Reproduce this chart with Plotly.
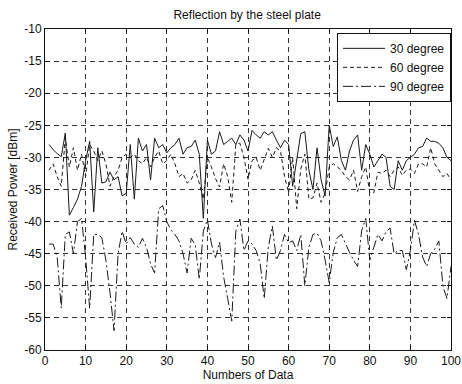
import plotly.graph_objects as go

# Sample index (numbers of data)
samples = list(range(1, 101))

# Received power [dBm] at each incidence angle
power_30 = [
    -28.0, -28.8, -29.4, -29.9, -26.2, -39.0, -37.8, -36.5, -34.5, -30.5,
    -27.5, -38.5, -28.5, -34.0, -33.8, -32.3, -33.5, -33.0, -36.0, -35.6,
    -28.0, -36.5, -27.0, -29.0, -28.0, -33.5, -27.0, -28.5, -28.0, -29.3,
    -28.5, -28.0, -27.0, -29.5, -28.5, -28.3, -27.3, -29.5, -39.5, -27.3,
    -29.5, -29.0, -26.0, -28.0, -27.5, -27.0, -28.0, -26.5, -27.3, -29.0,
    -25.8, -26.5, -27.0, -26.0, -26.5, -26.0, -27.3, -28.5, -27.3, -28.0,
    -34.5, -30.0, -26.3, -26.0, -32.0, -35.0, -28.5, -33.5, -36.0, -25.0,
    -28.3, -26.8, -30.5, -32.0, -29.0, -27.3, -26.5, -32.0, -28.0, -29.5,
    -31.5, -30.5, -29.5, -30.0, -34.5, -35.0, -30.5, -32.0, -30.5, -30.0,
    -29.5, -28.5, -28.3, -27.0, -27.5, -27.5, -27.8, -28.5, -30.0, -30.5,
]
power_60 = [
    -32.0, -31.0, -33.0, -34.5, -27.0, -31.5, -28.5, -32.0, -29.5, -33.0,
    -28.0, -29.0, -30.5, -29.0, -31.0, -34.5, -33.0, -32.0, -30.0, -29.5,
    -30.0, -29.5, -30.5, -31.0, -30.0, -31.5, -30.0, -29.0, -31.0, -30.5,
    -29.5, -31.0, -33.0, -32.5, -34.0, -33.5, -32.0, -34.0, -36.5, -30.0,
    -31.5, -33.3, -34.6, -31.0, -33.0, -37.0, -28.0, -27.8, -30.0, -33.4,
    -30.5, -30.0, -32.0, -30.3, -28.6, -30.0, -28.5, -29.0, -33.0, -35.5,
    -30.0, -38.0, -31.8, -29.5, -36.5, -36.3, -34.0, -37.0, -35.6, -31.5,
    -31.0, -31.5, -32.0, -33.0, -33.5, -32.0, -35.3, -33.0, -31.5, -35.5,
    -35.5, -32.3, -32.5, -32.0, -33.0, -32.0, -31.5, -32.8, -32.0, -31.8,
    -32.5, -31.0, -31.0, -31.5, -28.5, -31.0, -32.0, -33.0, -32.5, -33.5,
]
power_90 = [
    -43.5, -43.5, -45.5, -53.5, -42.0, -41.6, -45.0, -40.0, -39.5, -45.5,
    -53.5, -42.0, -42.0, -42.5, -46.0, -51.0, -57.0, -45.0, -41.5, -43.5,
    -42.5, -43.5, -44.0, -42.6, -44.0, -46.6, -48.0, -38.0, -37.5, -40.0,
    -41.3, -42.0, -43.0, -45.0, -48.0, -42.6, -43.6, -49.0, -41.5, -39.7,
    -43.5, -45.6, -43.2, -48.6, -52.0, -55.5, -41.5, -39.6, -44.5, -43.0,
    -43.5, -44.5, -46.5, -52.0, -44.0, -40.7, -46.0, -44.5, -42.0, -43.3,
    -43.0, -44.5, -42.0, -50.0, -44.0, -42.0, -41.8, -43.0, -46.0, -49.5,
    -44.8, -42.5, -42.0, -43.5, -44.8, -46.0, -47.0, -41.4, -39.5, -46.0,
    -44.0, -42.0, -43.0, -41.6, -41.0, -45.0, -44.5, -44.5, -47.5, -44.5,
    -39.8, -42.0, -45.5, -47.0, -45.0, -44.3, -43.0, -50.0, -52.0, -47.0,
]

# Axis ticks (labels written with a plain hyphen-minus)
x_ticks = [0, 10, 20, 30, 40, 50, 60, 70, 80, 90, 100]
y_ticks = [-10, -15, -20, -25, -30, -35, -40, -45, -50, -55, -60]

series_names = ["30 degree", "60 degree", "90 degree"]
series_dash = ["solid", "4px,3px", "10px,3px,2px,3px"]

FONT = "Liberation Sans, Arial, sans-serif"
INK = "#1a1a1a"

fig = go.Figure()
for name, values, dash in zip(series_names, [power_30, power_60, power_90], series_dash):
    fig.add_trace(go.Scatter(
        x=samples, y=values, mode="lines", name=name,
        line=dict(color=INK, width=1, dash=dash),
    ))

axis_common = dict(
    showline=True, linecolor="#111", linewidth=1, mirror="ticks",
    ticks="inside", ticklen=4, tickcolor="#111",
    showgrid=True, gridcolor="#333", gridwidth=1, griddash="5px,4px",
    zeroline=False, automargin=False,
    tickfont=dict(family=FONT, size=12, color="#111"),
)

fig.update_xaxes(range=[0, 100], tickvals=x_ticks, ticktext=[str(v) for v in x_ticks],
                 title=dict(text="Numbers of Data", font=dict(family=FONT, size=12, color="#111"), standoff=2),
                 **axis_common)
fig.update_yaxes(range=[-60, -10], tickvals=y_ticks, ticktext=[str(v) for v in y_ticks],
                 title=dict(text="Received Power [dBm]", font=dict(family=FONT, size=12, color="#111"), standoff=4),
                 **axis_common)

fig.update_layout(
    width=462, height=384,
    margin=dict(l=45, r=11, t=29, b=34, autoexpand=False),
    paper_bgcolor="white", plot_bgcolor="white",
    title=dict(text="Reflection by the steel plate", x=0.535, xanchor="center",
               y=1 - 15 / 384, yanchor="middle",
               font=dict(family=FONT, size=12, color="#111")),
    legend=dict(x=1, xanchor="right", y=0.988, yanchor="top",
                bgcolor="white", bordercolor="#111", borderwidth=1,
                font=dict(family=FONT, size=12, color="#111"),
                itemwidth=42, tracegroupgap=0),
    showlegend=True,
)

fig.write_html("out.html")
